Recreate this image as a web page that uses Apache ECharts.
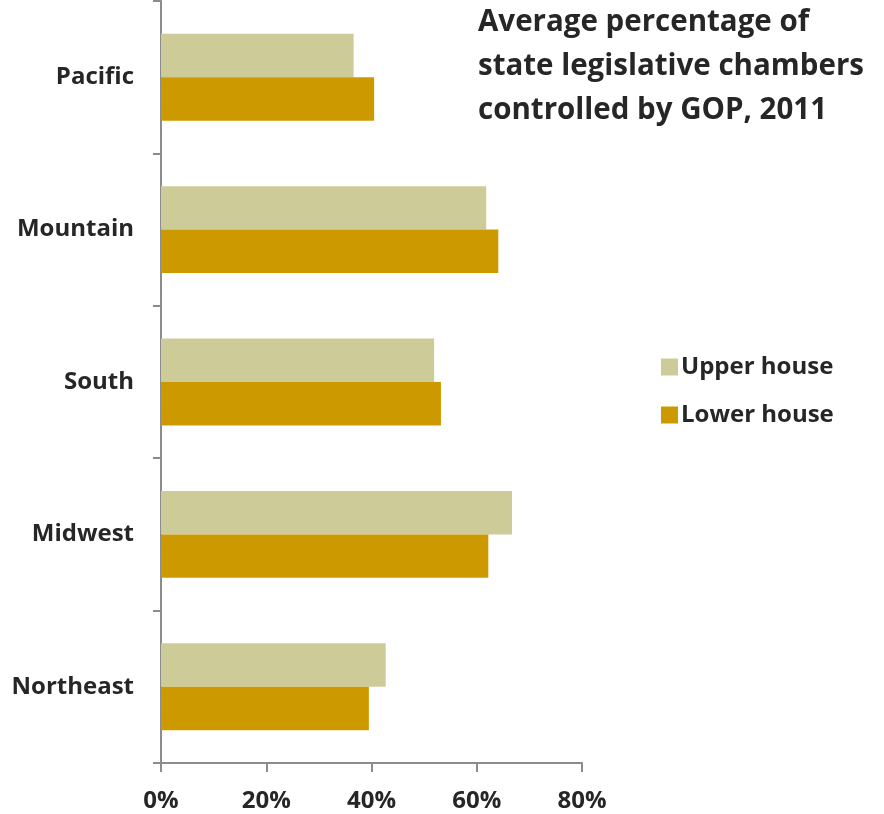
<!DOCTYPE html>
<html>
<head>
<meta charset="utf-8">
<script src="https://cdn.jsdelivr.net/npm/echarts@6/dist/echarts.min.js"></script>
<style>
  html, body { margin: 0; padding: 0; background: #fff; }
  #chart { width: 884px; height: 814px; }
</style>
</head>
<body>
<div id="chart"></div>
<script>
// regions, bottom to top as the y category axis draws them
const regions = ['Northeast', 'Midwest', 'South', 'Mountain', 'Pacific']
const upperHouse = [42.7, 66.7, 51.9, 61.8, 36.6]
const lowerHouse = [39.5, 62.2, 53.2, 64.1, 40.5]
const xTicks = [0, 20, 40, 60, 80]

const font = '"Open Sans", sans-serif'
const axisGray = '#8c8c8c'
const textColor = '#262626'

let myChart = echarts.init(document.getElementById('chart'))
let option = {
  backgroundColor: '#FFFFFF',
  animation: false,
  title: {
    text: 'Average percentage of\nstate legislative chambers\ncontrolled by GOP, 2011',
    left: 473,
    top: -4,
    textStyle: {
      fontFamily: font,
      fontWeight: 'bold',
      fontSize: 29.5,
      lineHeight: 44,
      color: textColor
    }
  },
  legend: {
    data: ['Upper house', 'Lower house'],
    orient: 'vertical',
    left: 656,
    top: 350,
    itemWidth: 17,
    itemHeight: 17,
    itemGap: 24,
    icon: 'rect',
    textStyle: {
      fontFamily: font,
      fontWeight: 'bold',
      fontSize: 24,
      color: textColor,
      padding: [0, 0, 0, -2]
    }
  },
  grid: {
    left: 161,
    right: 302,
    top: 1,
    bottom: 51
  },
  xAxis: {
    type: 'value',
    min: xTicks[0],
    max: xTicks[xTicks.length - 1],
    interval: 20,
    axisLine: {
      show: true,
      lineStyle: { color: axisGray, width: 2 }
    },
    axisTick: {
      show: true,
      length: 9,
      lineStyle: { color: axisGray, width: 2 }
    },
    splitLine: { show: false },
    axisLabel: {
      formatter: '{value}%',
      margin: 26,
      fontFamily: font,
      fontWeight: 'bold',
      fontSize: 24,
      color: textColor
    }
  },
  yAxis: {
    type: 'category',
    data: regions,
    axisLine: {
      show: true,
      lineStyle: { color: axisGray, width: 2 }
    },
    axisTick: {
      show: true,
      length: 8,
      lineStyle: { color: axisGray, width: 2 }
    },
    axisLabel: {
      margin: 27,
      fontFamily: font,
      fontWeight: 'bold',
      fontSize: 24,
      color: textColor
    }
  },
  series: [
    {
      name: 'Upper house',
      type: 'bar',
      data: upperHouse,
      barGap: '0%',
      barCategoryGap: '43%',
      itemStyle: { color: '#cdcc99' }
    },
    {
      name: 'Lower house',
      type: 'bar',
      data: lowerHouse,
      itemStyle: { color: '#cc9900' }
    }
  ]
}
myChart.setOption(option)
</script>
</body>
</html>
